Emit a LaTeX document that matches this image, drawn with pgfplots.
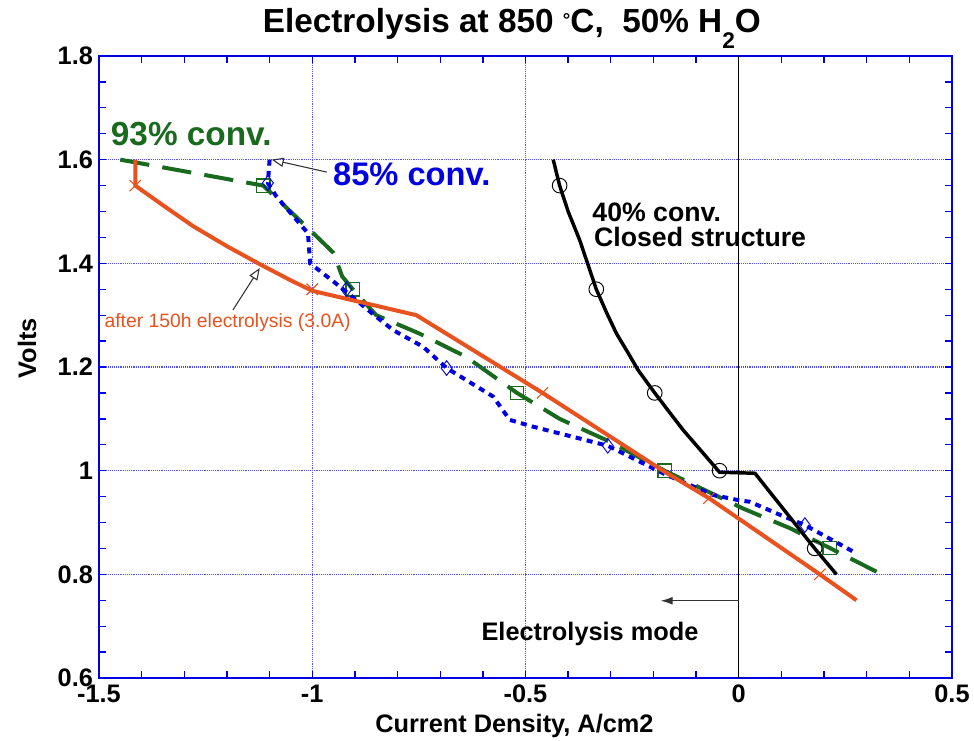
\documentclass[border=0pt]{standalone}
\usepackage{pgfplots}
\pgfplotsset{compat=1.18}
\usepackage{fontspec}
\setmainfont{Liberation Sans}
\usetikzlibrary{arrows.meta}
\definecolor{myorange}{RGB}{232,82,30}
\definecolor{mygreen}{RGB}{25,105,30}
\definecolor{myblue}{RGB}{0,0,225}
\definecolor{gridblue}{RGB}{80,80,255}
\definecolor{arrowgray}{RGB}{50,50,50}
\begin{document}
\begin{tikzpicture}
\path[use as bounding box] (-74.25pt,-46.5pt) rectangle (656.25pt,508.5pt);
\begin{axis}[
  at={(0pt,0pt)}, anchor=south west,
  scale only axis, width=639.75pt, height=466.5pt,
  xmin=-1.5, xmax=0.5, ymin=0.6, ymax=1.8,
  clip mode=individual,
  xtick={-1.5,-1,-0.5,0,0.5},
  ytick={0.6,0.8,1,1.2,1.4,1.6,1.8},
  minor x tick num=4, minor y tick num=3,
  tick align=inside, xtick pos=both, ytick pos=both,
  major tick length=5pt, minor tick length=5pt,
  every tick/.style={myblue, line width=1pt},
  axis line style={myblue, line width=2pt},
  grid=major, major grid style={gridblue, densely dotted, line width=0.8pt},
  /pgf/number format/assume math mode=true,
  ticklabel style={font=\fontsize{19}{22}\selectfont\bfseries},
  xticklabel style={yshift=-3pt, inner sep=2pt},
  yticklabel style={xshift=-1pt},
  xlabel={Current Density, A/cm2},
  ylabel={Volts},
  label style={font=\fontsize{19}{22}\selectfont\bfseries},
  xlabel style={at={(axis description cs:0.487,-0.077)}, anchor=center, inner sep=1pt},
  ylabel style={at={(axis description cs:-0.0844,0.53)}, anchor=center},
]
% zero line
\addplot[black, line width=1pt, forget plot] coordinates {(0,0.6) (0,1.8)};

% 93% conv. (green dashed)
\addplot[mygreen, line width=3pt, dash pattern=on 22pt off 10pt] coordinates {
(-1.45,1.60) (-1.115,1.55) (-1.0,1.46) (-0.95,1.42) (-0.93,1.375) (-0.905,1.35)
(-0.85,1.30) (-0.75,1.265) (-0.64,1.22) (-0.52,1.15) (-0.42,1.10) (-0.30,1.055)
(-0.174,1.0) (0.01,0.927) (0.12,0.889) (0.213,0.851) (0.335,0.80)};
\addplot[only marks, mygreen, mark=square, mark size=5pt, mark options={line width=1pt}] coordinates {
(-1.115,1.55) (-0.905,1.35) (-0.52,1.15) (-0.174,1.0) (0.213,0.851)};

% 85% conv. (blue dotted)
\addplot[myblue, line width=3pt, dash pattern=on 4.5pt off 4pt] coordinates {
(-1.10,1.60) (-1.104,1.555) (-1.085,1.53) (-1.01,1.458) (-1.005,1.40) (-0.935,1.355)
(-0.85,1.297) (-0.81,1.271) (-0.74,1.239) (-0.685,1.198) (-0.576,1.143) (-0.537,1.098)
(-0.483,1.085) (-0.373,1.062) (-0.307,1.048) (-0.17,0.992) (-0.06,0.953) (0.0,0.943)
(0.026,0.94) (0.096,0.915) (0.155,0.895) (0.268,0.844)};
\addplot[only marks, myblue, mark=diamond, mark size=5.5pt, mark options={line width=0.7pt}] coordinates {
(-1.104,1.555) (-0.92,1.35) (-0.685,1.198) (-0.307,1.048) (0.155,0.895)};

% after 150h (orange solid)
\addplot[myorange, line width=3pt] coordinates {
(-1.415,1.60) (-1.415,1.55) (-1.35,1.512) (-1.28,1.472) (-1.2,1.433) (-1.12,1.397)
(-1.05,1.367) (-1.0,1.347) (-0.756,1.30)
(-0.46,1.15) (-0.174,0.998) (-0.07,0.947) (0.19,0.80) (0.276,0.75)};
\addplot[only marks, myorange, mark=x, mark size=6pt, mark options={line width=0.8pt}] coordinates {
(-1.415,1.55) (-1.0,1.35) (-0.46,1.15) (-0.07,0.947) (0.19,0.80)};

% 40% conv. (black solid)
\addplot[black, line width=2.6pt] coordinates {
(-0.435,1.60) (-0.42,1.55) (-0.40,1.50) (-0.373,1.445) (-0.334,1.35) (-0.31,1.305)
(-0.287,1.265) (-0.26,1.228) (-0.236,1.194) (-0.197,1.15) (-0.16,1.11) (-0.13,1.078)
(-0.09,1.04) (-0.045,0.997) (0.038,0.995) (0.178,0.85) (0.229,0.80)};
\addplot[only marks, black, mark=o, mark size=5.5pt, mark options={line width=0.7pt}] coordinates {
(-0.42,1.55) (-0.334,1.35) (-0.197,1.15) (-0.045,1.0) (0.178,0.85)};

% annotations
\node[anchor=base west, mygreen, font=\fontsize{25}{28}\selectfont\bfseries] at (axis cs:-1.483,1.628) {93\% conv.};
\node[anchor=base west, myblue, font=\fontsize{24.5}{27}\selectfont\bfseries] at (axis cs:-0.962,1.551) {85\% conv.};
\draw[arrowgray, line width=0.8pt, -{Triangle[open, length=9pt, width=7pt]}] (axis cs:-0.966,1.576) -- (axis cs:-1.095,1.60);
\node[anchor=base west, black, font=\fontsize{20}{24}\selectfont\bfseries] at (axis cs:-0.354,1.480) {40\% conv.};
\node[anchor=base west, black, font=\fontsize{20}{24}\selectfont\bfseries] at (axis cs:-0.350,1.4316) {Closed structure};
\node[anchor=base west, myorange, font=\fontsize{14.5}{17}\selectfont] at (axis cs:-1.498,1.277) {after 150h electrolysis (3.0A)};
\draw[arrowgray, line width=0.8pt, -{Triangle[open, length=9pt, width=7pt]}] (axis cs:-1.186,1.31) -- (axis cs:-1.123,1.391);
\node[anchor=base west, black, font=\fontsize{19}{22}\selectfont\bfseries] at (axis cs:-0.614,0.673) {Electrolysis mode};
\draw[arrowgray, line width=1pt, -{Latex[length=9pt, width=6pt]}] (axis cs:0,0.749) -- (axis cs:-0.183,0.749);
% title
\node[anchor=base, black, font=\fontsize{25}{28}\selectfont\bfseries] at (axis description cs:0.484,1.037)
  {Electrolysis at 850 {\fontsize{14}{14}\selectfont\raisebox{5pt}{°}}C,~ 50\% H\raisebox{-12pt}{\fontsize{17}{17}\selectfont 2}O};
\end{axis}
\end{tikzpicture}
\end{document}
